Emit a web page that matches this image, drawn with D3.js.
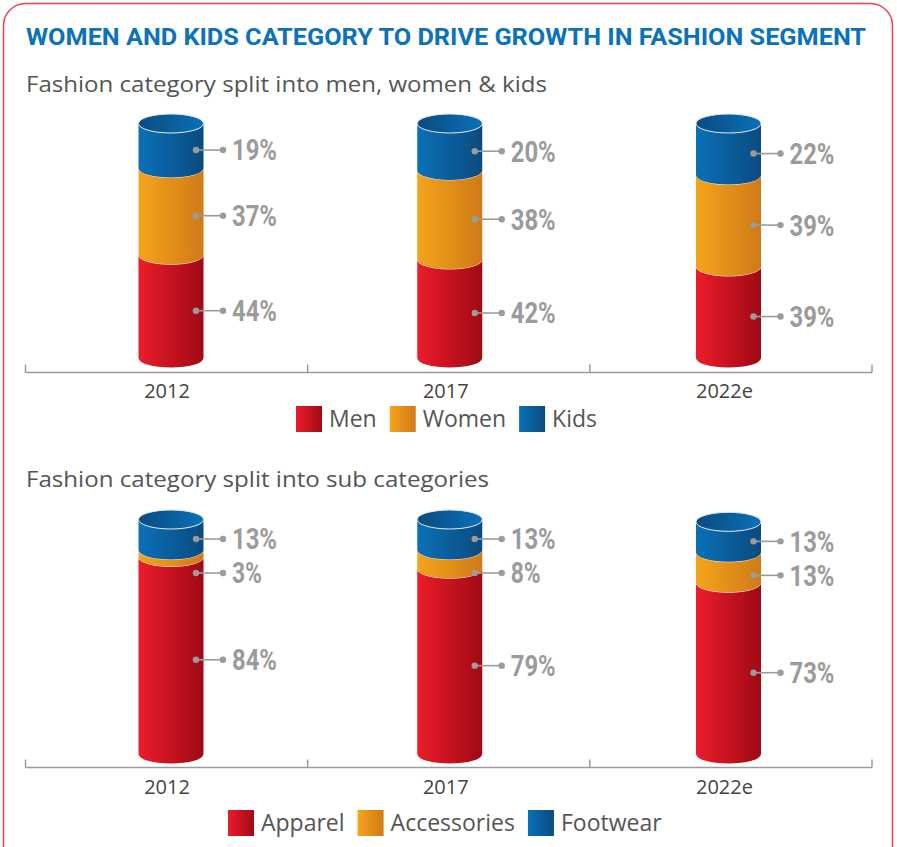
<!DOCTYPE html>
<html lang="en">
<head>
    <meta charset="UTF-8">
    <title>Women and kids category to drive growth in fashion segment</title>
    <script src="https://d3js.org/d3.v7.min.js"></script>
    <style>
        body { margin: 0; background: #fff; }
        svg { display: block; }
        .title { font-family: "Roboto", "Liberation Sans", sans-serif; font-weight: bold; fill: #0b72bc; }
        .sub { font-family: "Open Sans", "Liberation Sans", sans-serif; fill: #555; }
        .pct { font-family: "Roboto", "Liberation Sans", sans-serif; font-weight: bold; fill: #9b9b9b; }
        .axis-label { font-family: "Open Sans", "Liberation Sans", sans-serif; fill: #444; }
        .legend-text { font-family: "Open Sans", "Liberation Sans", sans-serif; fill: #555; }
    </style>
</head>
<body>
<svg id="chart" width="897" height="847"></svg>
<script>
    // data
    const years = ["2012", "2017", "2022e"];

    const genderKeys = ["Men", "Women", "Kids"];
    const men = [44, 42, 39];
    const women = [37, 38, 39];
    const kids = [19, 20, 22];

    const subKeys = ["Apparel", "Accessories", "Footwear"];
    const apparel = [84, 79, 73];
    const accessories = [3, 8, 13];
    const footwear = [13, 13, 13];

    const colorKeys = ["red", "orange", "blue"];

    const svg = d3.select("#chart");

    // gradients for the cylinder faces
    const defs = svg.append("defs");
    const grads = {
        red:    ["#ec1c2b", "#9f0a14"],
        orange: ["#f5a41c", "#cf7a17"],
        blue:   ["#0a70b7", "#0a4b80"]
    };
    Object.entries(grads).forEach(([k, c]) => {
        const g = defs.append("linearGradient").attr("id", "g-" + k)
            .attr("x1", 0).attr("x2", 1).attr("y1", 0).attr("y2", 0);
        g.append("stop").attr("offset", "0%").attr("stop-color", c[0]);
        g.append("stop").attr("offset", "100%").attr("stop-color", c[1]);
        const t = defs.append("linearGradient").attr("id", "gt-" + k)
            .attr("x1", 0).attr("x2", 1).attr("y1", 0).attr("y2", 0);
        t.append("stop").attr("offset", "0%").attr("stop-color", c[1]);
        t.append("stop").attr("offset", "100%").attr("stop-color", c[0]);
    });

    // frame
    svg.append("rect")
        .attr("x", 3.5).attr("y", 3.5)
        .attr("width", 889).attr("height", 880)
        .attr("rx", 22).attr("ry", 22)
        .attr("fill", "none")
        .attr("stroke", "#e8414f")
        .attr("stroke-width", 1.5);

    svg.append("text").attr("class", "title")
        .attr("x", 26).attr("y", 45)
        .attr("font-size", 24)
        .attr("textLength", 840).attr("lengthAdjust", "spacingAndGlyphs")
        .text("WOMEN AND KIDS CATEGORY TO DRIVE GROWTH IN FASHION SEGMENT");

    // band scale for the axis ticks, point scale for cylinder centres
    const x = d3.scaleBand().domain(years).range([25.5, 872]);
    const xc = d3.scalePoint().domain(years).range([171, 728.5]);
    const rx = 32.5, ry = 9.5;

    function drawPanel(opts) {
        const g = svg.append("g");

        g.append("text").attr("class", "sub")
            .attr("x", 26).attr("y", opts.subY)
            .attr("font-size", 22)
            .attr("textLength", opts.subLen).attr("lengthAdjust", "spacingAndGlyphs")
            .text(opts.subtitle);

        const y = d3.scaleLinear().domain([0, 100]).range([opts.bottom, opts.top]);

        const table = years.map((yr, i) => {
            const row = { year: yr };
            opts.keys.forEach((k, j) => row[k] = opts.series[j][i]);
            return row;
        });
        const stacked = d3.stack().keys(opts.keys)(table);

        years.forEach((yr, i) => {
            const cx = xc(yr);
            const l = cx - rx, r = cx + rx;
            const cyl = g.append("g");

            stacked.forEach((layer, j) => {
                const d = layer[i];
                const yb = y(d[0]), yt = y(d[1]);
                const col = colorKeys[j];
                const path = `M${l},${yt} A${rx},${ry} 0 0 0 ${r},${yt} L${r},${yb} A${rx},${ry} 0 0 1 ${l},${yb} Z`;
                cyl.append("path").attr("d", path).attr("fill", `url(#g-${col})`);
                if (j === stacked.length - 1) {
                    cyl.append("ellipse")
                        .attr("cx", cx).attr("cy", yt)
                        .attr("rx", rx).attr("ry", ry)
                        .attr("fill", `url(#gt-${col})`)
                        .attr("stroke", "#dfe6ee").attr("stroke-width", 1);
                } else {
                    cyl.append("path")
                        .attr("d", `M${l},${yt} A${rx},${ry} 0 0 0 ${r},${yt}`)
                        .attr("fill", "none")
                        .attr("stroke", "#f4e6e0").attr("stroke-width", 1);
                }
            });

            // label positions, top-down, kept apart so they don't collide
            const ys = stacked.map(layer => {
                const d = layer[i];
                return (y(d[0]) + y(d[1])) / 2 + ry * 0.45;
            });
            for (let j = stacked.length - 2; j >= 0; j--) {
                if (ys[j] < ys[j + 1] + 34) ys[j] = ys[j + 1] + 34;
            }

            stacked.forEach((layer, j) => {
                const d = layer[i];
                const ym = ys[j];
                const x1 = cx + 25, x2 = cx + 52;
                const txt = (d[1] - d[0]) + "%";
                g.append("line")
                    .attr("x1", x1).attr("x2", x2).attr("y1", ym).attr("y2", ym)
                    .attr("stroke", "#9b9b9b").attr("stroke-width", 1.6);
                g.append("circle").attr("cx", x1).attr("cy", ym).attr("r", 3.2).attr("fill", "#9b9b9b");
                g.append("circle").attr("cx", x2).attr("cy", ym).attr("r", 3.2).attr("fill", "#9b9b9b");
                g.append("text").attr("class", "pct")
                    .attr("x", cx + 61).attr("y", ym)
                    .attr("dy", "0.36em")
                    .attr("font-size", 29)
                    .attr("textLength", txt.length * 15).attr("lengthAdjust", "spacingAndGlyphs")
                    .text(txt);
            });
        });

        // axis
        const ay = opts.axisY;
        const edges = years.map(yr => x(yr)).concat([x.range()[1]]);
        g.append("line")
            .attr("x1", x.range()[0]).attr("x2", x.range()[1])
            .attr("y1", ay).attr("y2", ay)
            .attr("stroke", "#9a9a9a").attr("stroke-width", 1.5);
        g.selectAll(".tick").data(edges).enter().append("line")
            .attr("x1", d => d).attr("x2", d => d)
            .attr("y1", ay - 8).attr("y2", ay)
            .attr("stroke", "#9a9a9a").attr("stroke-width", 1.5);
        g.selectAll(".axis-label").data(years).enter().append("text")
            .attr("class", "axis-label")
            .attr("x", d => xc(d) - 4)
            .attr("y", opts.labelY)
            .attr("text-anchor", "middle")
            .attr("font-size", 20)
            .text(d => d);

        // legend
        let lx = opts.legendX;
        opts.keys.forEach((k, j) => {
            g.append("rect")
                .attr("x", lx).attr("y", opts.legendY)
                .attr("width", 26).attr("height", 26)
                .attr("fill", `url(#g-${colorKeys[j]})`);
            const t = g.append("text").attr("class", "legend-text")
                .attr("x", lx + 33).attr("y", opts.legendY + 21)
                .attr("font-size", 23)
                .text(k);
            lx += 33 + t.node().getComputedTextLength() + 13;
        });
    }

    drawPanel({
        subtitle: "Fashion category split into men, women & kids",
        subY: 92, subLen: 521,
        keys: genderKeys, series: [men, women, kids],
        top: 123.5, bottom: 358,
        axisY: 372.5, labelY: 398,
        legendX: 296, legendY: 406
    });

    drawPanel({
        subtitle: "Fashion category split into sub categories",
        subY: 487, subLen: 463,
        keys: subKeys, series: [apparel, accessories, footwear],
        top: 519.5, bottom: 754,
        axisY: 767.5, labelY: 794,
        legendX: 228, legendY: 810
    });
</script>
</body>
</html>
